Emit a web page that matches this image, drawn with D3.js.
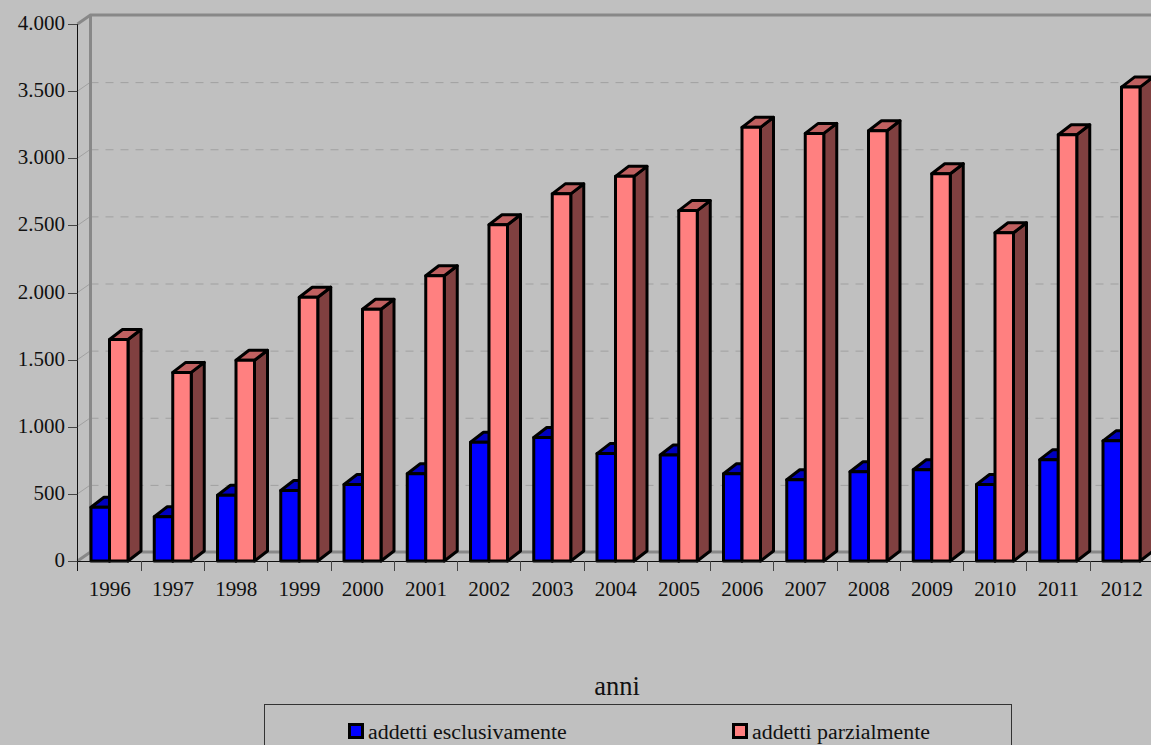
<!DOCTYPE html>
<html><head><meta charset="utf-8">
<script src="https://cdn.jsdelivr.net/npm/d3@7/dist/d3.min.js"></script>
<style>html,body{margin:0;padding:0;background:#c0c0c0;overflow:hidden}
svg{display:block}text{font-family:"Liberation Serif",serif;fill:#111}</style></head>
<body><svg id="c" width="1151" height="745"></svg>
<script>
const years=["1996","1997","1998","1999","2000","2001","2002","2003","2004","2005","2006","2007","2008","2009","2010","2011","2012"];
const esclusivamente=[400,330,490,525,570,650,885,920,800,790,650,605,665,680,570,755,895];
const parzialmente=[1650,1405,1495,1965,1875,2125,2505,2735,2865,2610,3230,3185,3205,2885,2445,3175,3530];
const yTicks=[0,500,1000,1500,2000,2500,3000,3500,4000];
const seriesNames=["addetti esclusivamente","addetti parzialmente"];
const xTitle="anni";

const svg=d3.select("#c");
const L=77.5,B=561,T=24,step=63.25,dx=13,dy=-9,barDy=-10,bw=18.5,pad=13.5;
const x=d3.scaleBand().domain(years).range([L,L+step*years.length]);
const y=d3.scaleLinear().domain([0,4000]).range([B,T]);
const fmt=v=>v===0?"0":d3.format(",")(v).replace(",",".");
const R=L+step*years.length+dx;

// back wall
const wall=svg.append("g").attr("fill","none");
wall.selectAll("line.g").data(yTicks.slice(1,-1)).join("line")
  .attr("x1",L+dx).attr("x2",R).attr("y1",d=>y(d)+dy+.5).attr("y2",d=>y(d)+dy+.5)
  .attr("stroke","#a0a0a0").attr("stroke-width",1).attr("stroke-dasharray","8 7");
wall.selectAll("line.d").data(yTicks.slice(1,-1)).join("line")
  .attr("x1",L).attr("x2",L+dx).attr("y1",d=>y(d)).attr("y2",d=>y(d)+dy)
  .attr("stroke","#a0a0a0");
wall.append("path")
  .attr("d",`M${L},${y(4000)}L${L+dx},${y(4000)+dy}H${R}M${L+dx},${y(4000)+dy}V${B+dy}H${R}M${L},${B}L${L+dx},${B+dy}`)
  .attr("stroke","#888").attr("stroke-width",3);

// bars
function bar(g,x0,v,front,top,side){
  const yt=y(v),x1=x0+bw;
  g.append("path").attr("d",`M${x1},${yt}L${x1+dx},${yt+barDy}V${B+barDy}L${x1},${B}Z`).attr("fill",side);
  g.append("path").attr("d",`M${x0},${yt}L${x0+dx},${yt+barDy}H${x1+dx}L${x1},${yt}Z`).attr("fill",top);
  g.append("rect").attr("x",x0).attr("y",yt).attr("width",bw).attr("height",B-yt).attr("fill",front);
}
const bars=svg.append("g").attr("stroke","#000").attr("stroke-width",3).attr("stroke-linejoin","round");
years.forEach((yr,i)=>{
  const g=bars.append("g");
  bar(g,x(yr)+pad,esclusivamente[i],"#0000ff","#0000c0","#000080");
  bar(g,x(yr)+pad+bw,parzialmente[i],"#ff8080","#c06060","#804040");
});

// axes
const ax=svg.append("g").attr("stroke","#222").attr("fill","none");
ax.append("line").attr("x1",L).attr("x2",L).attr("y1",T).attr("y2",B+10).attr("stroke","#111");
ax.append("line").attr("x1",L-9).attr("x2",1151).attr("y1",B+.5).attr("y2",B+.5).attr("stroke","#111");
ax.selectAll("line.t").data(yTicks).join("line")
  .attr("x1",L-9.5).attr("x2",L).attr("y1",d=>Math.round(y(d))+.5).attr("y2",d=>Math.round(y(d))+.5).attr("stroke","#444");
ax.selectAll("line.b").data(years).join("line")
  .attr("x1",d=>Math.round(x(d)+step)+.5).attr("x2",d=>Math.round(x(d)+step)+.5)
  .attr("y1",B).attr("y2",B+10).attr("stroke","#444");
svg.append("g").selectAll("text").data(yTicks).join("text")
  .attr("x",65).attr("y",d=>y(d)+6).attr("text-anchor","end").attr("font-size",21).text(fmt);
svg.append("g").selectAll("text").data(years).join("text")
  .attr("x",d=>x(d)+x.bandwidth()/2+.5).attr("y",596).attr("text-anchor","middle").attr("font-size",21).text(d=>d);
svg.append("text").attr("x",617).attr("y",695).attr("text-anchor","middle").attr("font-size",26.5).text(xTitle);

// legend
svg.append("rect").attr("x",264.5).attr("y",704.5).attr("width",747).attr("height",60).attr("fill","none").attr("stroke","#333");
const lx=[348,732],lc=["#0000ff","#ff8080"];
seriesNames.forEach((n,i)=>{
  svg.append("rect").attr("x",lx[i]+1.5).attr("y",724.5).attr("width",13).attr("height",13)
    .attr("fill",lc[i]).attr("stroke","#000").attr("stroke-width",3);
  svg.append("text").attr("x",lx[i]+20).attr("y",739).attr("font-size",21.9).text(n);
});
</script></body></html>
